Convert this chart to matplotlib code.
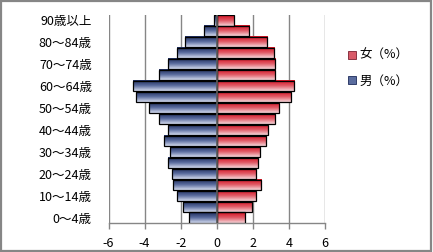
import numpy as np
import matplotlib
matplotlib.use('Agg')
from matplotlib import pyplot as plt
import matplotlib.patches
from matplotlib.colors import LinearSegmentedColormap
from matplotlib.patches import Patch

plt.rcParams['font.family'] = ['Noto Sans CJK JP', 'DejaVu Sans']

# age groups, bottom to top
ages = ['0～4歳', '5～9歳', '10～14歳', '15～19歳', '20～24歳', '25～29歳',
        '30～34歳', '35～39歳', '40～44歳', '45～49歳', '50～54歳', '55～59歳',
        '60～64歳', '65～69歳', '70～74歳', '75～79歳', '80～84歳', '85～89歳',
        '90歳以上']
male = [1.56, 1.89, 2.22, 2.44, 2.50, 2.72, 2.60, 2.94, 2.72, 3.19,
        3.77, 4.50, 4.65, 3.19, 2.70, 2.20, 1.78, 0.69, 0.18]
female = [1.59, 1.94, 2.20, 2.48, 2.20, 2.26, 2.42, 2.75, 2.86, 3.25,
          3.47, 4.13, 4.30, 3.25, 3.25, 3.18, 2.81, 1.81, 0.93]
xticks = [-6, -4, -2, 0, 2, 4, 6]
legend_labels = ['女（%）', '男（%）']

W, H = 433, 252
fig = plt.figure(figsize=(W / 100, H / 100), dpi=100)
ax = fig.add_axes([108.5 / W, 1 - 223 / H, (325 - 108.5) / W, (223 - 15) / H])

grey = '#868686'
blue_cm = LinearSegmentedColormap.from_list('b', ['#1c2a5a', '#5a6c9e', '#d4dbee'])
red_cm = LinearSegmentedColormap.from_list('r', ['#d41020', '#e05a66', '#f6d6da'])
grad = np.linspace(0, 1, 64).reshape(-1, 1)

yy = np.arange(len(ages))
mbars = ax.barh(yy, -np.array(male), height=0.92, facecolor='none',
                edgecolor='black', linewidth=0.9, zorder=4)
fbars = ax.barh(yy, female, height=0.92, facecolor='none',
                edgecolor='black', linewidth=0.9, zorder=4)

# gradient fill, dark on top
for bars, cm in [(mbars, blue_cm), (fbars, red_cm)]:
    for b in bars:
        x0, y0 = b.get_x(), b.get_y()
        x1, y1 = x0 + b.get_width(), y0 + b.get_height()
        ax.imshow(grad, cmap=cm, aspect='auto', origin='upper',
                  extent=(min(x0, x1), max(x0, x1), y0, y1), zorder=3,
                  interpolation='bilinear')

ax.set_xlim(-6, 6)
ax.set_ylim(-0.5, len(ages) - 0.5)
ax.set_xticks(xticks)
ax.set_xticklabels([str(t) for t in xticks], fontsize=9)
ax.set_yticks(yy[::2])
ax.set_yticklabels(ages[::2], fontsize=9)
ax.tick_params(axis='y', length=0, pad=12)
ax.tick_params(axis='x', direction='out', length=4, width=1, color=grey, pad=6)

for t in xticks:
    if t != 0:
        ax.axvline(t, color=grey, linewidth=1, zorder=1)
ax.axvline(0, color='#606060', linewidth=1.2, zorder=5)

for s in ['top', 'right', 'left']:
    ax.spines[s].set_visible(False)
ax.spines['bottom'].set_color(grey)
ax.spines['bottom'].set_linewidth(1)

handles = [Patch(facecolor='#d85a68', edgecolor='#7a2030', linewidth=0.6),
           Patch(facecolor='#5a6c9e', edgecolor='#1c2a5a', linewidth=0.6)]
fig.legend(handles, legend_labels, loc='upper left',
           bbox_to_anchor=(337 / W, 1 - 38 / H), frameon=False, fontsize=9,
           handlelength=0.6, handleheight=0.6, handletextpad=0.3,
           labelspacing=1.0)

# chart area border
fig.patches.append(matplotlib.patches.Rectangle(
    (0.002, 0.004), 0.994, 0.992, transform=fig.transFigure, fill=False,
    edgecolor=grey, linewidth=1.6))

fig.savefig('out.png', dpi=100)
